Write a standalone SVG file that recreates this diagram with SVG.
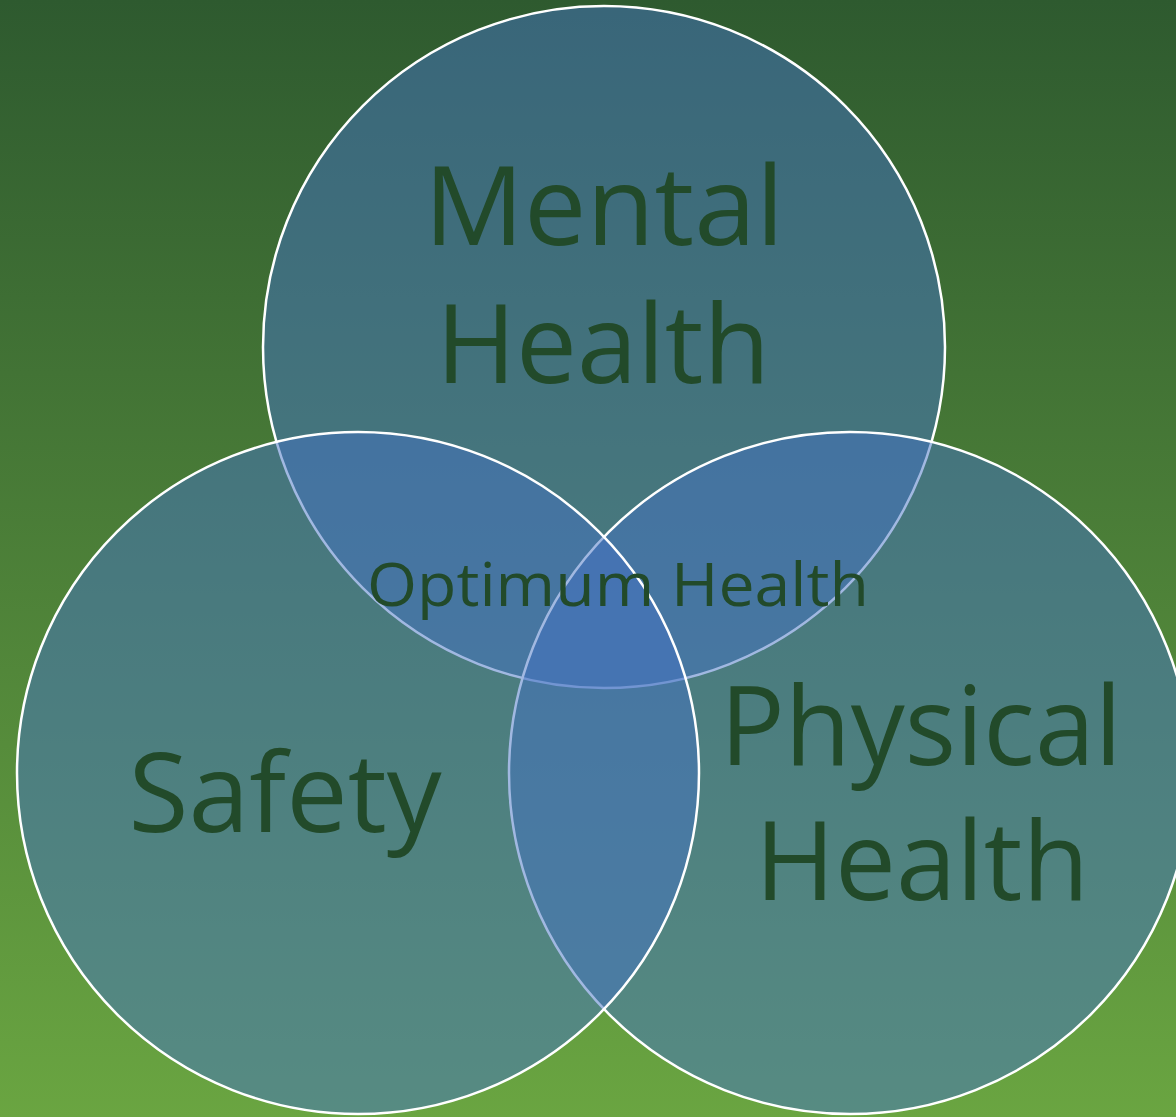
<svg xmlns="http://www.w3.org/2000/svg" width="1176" height="1117" viewBox="0 0 1176 1117">
<defs>
<linearGradient id="bg" x1="0" y1="0" x2="0" y2="1">
<stop offset="0" stop-color="#2e5a2f"/>
<stop offset="1" stop-color="#6aa541"/>
</linearGradient>
<style>
.c{fill:#4472c4;fill-opacity:0.5;stroke:#ffffff;stroke-width:2.5}
.t{font-family:"Open Sans","Noto Sans",sans-serif;fill:#224a2a;text-anchor:middle}
.big{font-size:110px}
.mid{font-size:60px}
</style>
</defs>
<rect width="1176" height="1117" fill="url(#bg)"/>
<g id="mental"><circle class="c" cx="604" cy="347" r="341"/></g>
<g id="physical"><circle class="c" cx="850" cy="773" r="341"/></g>
<g id="safety"><circle class="c" cx="358" cy="773" r="341"/></g>
<g id="labels">
<text class="t big" x="604" y="245" textLength="360" lengthAdjust="spacingAndGlyphs">Mental</text>
<text class="t big" x="603" y="383" textLength="334" lengthAdjust="spacingAndGlyphs">Health</text>
<text class="t big" x="285" y="832" textLength="313" lengthAdjust="spacingAndGlyphs">Safety</text>
<text class="t big" x="921" y="765" textLength="402" lengthAdjust="spacingAndGlyphs">Physical</text>
<text class="t big" x="922" y="900" textLength="334" lengthAdjust="spacingAndGlyphs">Health</text>
<text class="t mid" x="618" y="606" textLength="502" lengthAdjust="spacingAndGlyphs">Optimum Health</text>
</g>
</svg>
